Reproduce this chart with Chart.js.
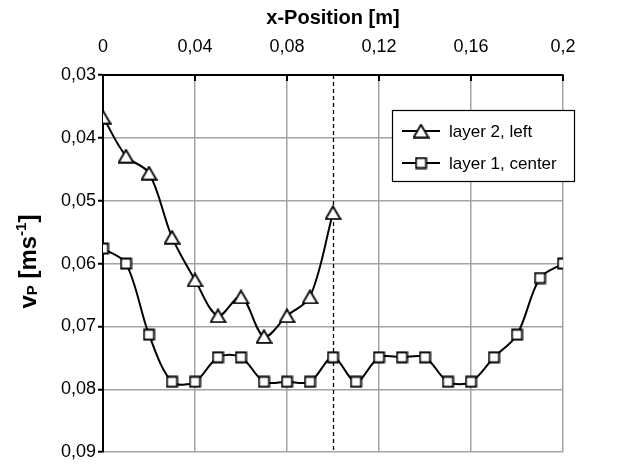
<!DOCTYPE html>
<html><head><meta charset="utf-8">
<script src="https://cdn.jsdelivr.net/npm/chart.js@4.4.0/dist/chart.umd.min.js"></script>
<style>html,body{margin:0;padding:0;background:#fff;}#wrap{width:644px;height:465px;}</style>
</head><body><div id="wrap"><canvas id="c" width="644" height="465"></canvas></div>
<script>
// ---- data ----
const xTicks = [0, 0.04, 0.08, 0.12, 0.16, 0.2];
const yTicks = [0.03, 0.04, 0.05, 0.06, 0.07, 0.08, 0.09];
const layer2X = [0, 0.01, 0.02, 0.03, 0.04, 0.05, 0.06, 0.07, 0.08, 0.09, 0.1];
const layer2V = [0.0367, 0.0429, 0.0456, 0.0558, 0.0626, 0.0683, 0.0653, 0.0716, 0.0683, 0.0653, 0.0519];
const layer1X = [0, 0.01, 0.02, 0.03, 0.04, 0.05, 0.06, 0.07, 0.08, 0.09, 0.1, 0.11, 0.12, 0.13, 0.14, 0.15, 0.16, 0.17, 0.18, 0.19, 0.2];
const layer1V = [0.0576, 0.0600, 0.0713, 0.0788, 0.0788, 0.0749, 0.0749, 0.0788, 0.0788, 0.0788, 0.0749, 0.0788, 0.0749, 0.0749, 0.0749, 0.0788, 0.0788, 0.0749, 0.0713, 0.0623, 0.0600];
const seriesNames = ['layer 2, left', 'layer 1, center'];
const dashedAt = 0.1;
const xTitle = 'x-Position [m]';
const yTitleParts = [['v', 'n'], ['P', 'sub'], [' [ms', 'n'], ['-1', 'sup'], [']', 'n']];

const FONT = "'Liberation Sans', Arial, Helvetica, sans-serif";
const fmt = v => String(+Number(v).toFixed(3)).replace('.', ',');

function makeTri() {
  const c = document.createElement('canvas'); c.width = 17; c.height = 15;
  const g = c.getContext('2d');
  g.lineWidth = 1.8; g.lineJoin = 'miter'; g.strokeStyle = '#000'; g.fillStyle = '#fff';
  g.beginPath(); g.moveTo(8.5, 1.2); g.lineTo(15.8, 13.8); g.lineTo(1.2, 13.8); g.closePath();
  g.fill(); g.stroke(); return c;
}
function makeSq() {
  const c = document.createElement('canvas'); c.width = 13; c.height = 13;
  const g = c.getContext('2d');
  g.lineWidth = 1.8; g.strokeStyle = '#000'; g.fillStyle = '#fff';
  g.beginPath(); g.rect(1.5, 1.5, 10, 10); g.fill(); g.stroke(); return c;
}
const triImg = makeTri(), sqImg = makeSq();

const overlay = {
  id: 'overlay',
  beforeDatasetsDraw(chart) {
    const { ctx, chartArea: a, scales: { x } } = chart;
    ctx.save();
    const px = Math.round(x.getPixelForValue(dashedAt)) + 0.5;
    ctx.strokeStyle = '#000'; ctx.lineWidth = 1.3; ctx.setLineDash([4, 3]);
    ctx.beginPath(); ctx.moveTo(px, a.top); ctx.lineTo(px, a.bottom); ctx.stroke();
    ctx.setLineDash([]);
    ctx.lineWidth = 2;
    xTicks.forEach(v => {
      const p = x.getPixelForValue(v);
      ctx.beginPath(); ctx.moveTo(p, a.top); ctx.lineTo(p, a.top + 6); ctx.stroke();
    });
    ctx.restore();
  },
  afterDraw(chart) {
    const { ctx, chartArea: a } = chart;
    ctx.save();
    // x title
    ctx.fillStyle = '#000';
    ctx.font = 'bold 20px ' + FONT; ctx.textAlign = 'center'; ctx.textBaseline = 'middle';
    ctx.fillText(xTitle, (a.left + a.right) / 2, 18);
    // y title rotated
    const big = 'bold 24px ' + FONT, small = 'bold 15px ' + FONT;
    let w = 0;
    yTitleParts.forEach(([t, k]) => { ctx.font = k === 'n' ? big : small; w += ctx.measureText(t).width; });
    ctx.translate(27, (a.top + a.bottom) / 2 - 2);
    ctx.rotate(-Math.PI / 2);
    ctx.textAlign = 'left'; ctx.textBaseline = 'alphabetic';
    let cx = -w / 2;
    yTitleParts.forEach(([t, k]) => {
      ctx.font = k === 'n' ? big : small;
      const dy = k === 'sub' ? 1 : (k === 'sup' ? -10 : 0);
      ctx.fillText(t, cx, 9 + dy);
      cx += ctx.measureText(t).width;
    });
    ctx.restore();
    // legend
    ctx.save();
    const L = a.right - 171, T = a.top + 35, W = 182, H = 71;
    ctx.fillStyle = '#fff'; ctx.fillRect(L, T, W, H);
    ctx.strokeStyle = '#000'; ctx.lineWidth = 1.2; ctx.strokeRect(L + 0.5, T + 0.5, W, H);
    const imgs = [triImg, sqImg];
    seriesNames.forEach((name, i) => {
      const y = T + 21 + i * 32;
      ctx.lineWidth = 2; ctx.beginPath(); ctx.moveTo(L + 10, y); ctx.lineTo(L + 48, y); ctx.stroke();
      const im = imgs[i];
      ctx.drawImage(im, L + 29 - im.width / 2, y - im.height / 2);
      ctx.fillStyle = '#000'; ctx.font = '17px ' + FONT; ctx.textAlign = 'left'; ctx.textBaseline = 'middle';
      ctx.fillText(name, L + 57, y + 1);
    });
    ctx.restore();
  }
};

new Chart(document.getElementById('c'), {
  type: 'line',
  data: {
    datasets: [
      { label: seriesNames[0], data: layer2X.map((x, i) => ({ x, y: layer2V[i] })),
        borderColor: '#000', borderWidth: 2, tension: 0.33, pointStyle: triImg, pointRadius: 8, fill: false },
      { label: seriesNames[1], data: layer1X.map((x, i) => ({ x, y: layer1V[i] })),
        borderColor: '#000', borderWidth: 2, tension: 0.33, pointStyle: sqImg, pointRadius: 7, fill: false }
    ]
  },
  options: {
    responsive: false, animation: false, devicePixelRatio: 1,
    layout: { padding: { left: 0, top: 0, right: 81, bottom: 12 } },
    plugins: { legend: { display: false }, tooltip: { enabled: false } },
    scales: {
      x: {
        type: 'linear', position: 'top', min: 0, max: 0.2,
        afterBuildTicks: s => { s.ticks = xTicks.map(v => ({ value: v })); },
        afterFit: s => { s.height = 75; },
        ticks: { callback: v => fmt(v), color: '#000', font: { family: FONT, size: 18 }, padding: 17, maxRotation: 0 },
        grid: { color: '#a3a3a3', lineWidth: 1.5, drawTicks: false },
        border: { display: true, color: '#000', width: 2 }
      },
      y: {
        type: 'linear', reverse: true, min: 0.03, max: 0.09,
        afterBuildTicks: s => { s.ticks = yTicks.map(v => ({ value: v })); },
        afterFit: s => { s.width = 103; },
        ticks: { callback: v => fmt(v), color: '#000', font: { family: FONT, size: 18 }, padding: 2 },
        grid: { color: '#a3a3a3', lineWidth: 1.5, drawTicks: true, tickLength: 5, tickColor: '#000', tickWidth: 2 },
        border: { display: true, color: '#000', width: 2 }
      }
    }
  },
  plugins: [overlay]
});
</script></body></html>
